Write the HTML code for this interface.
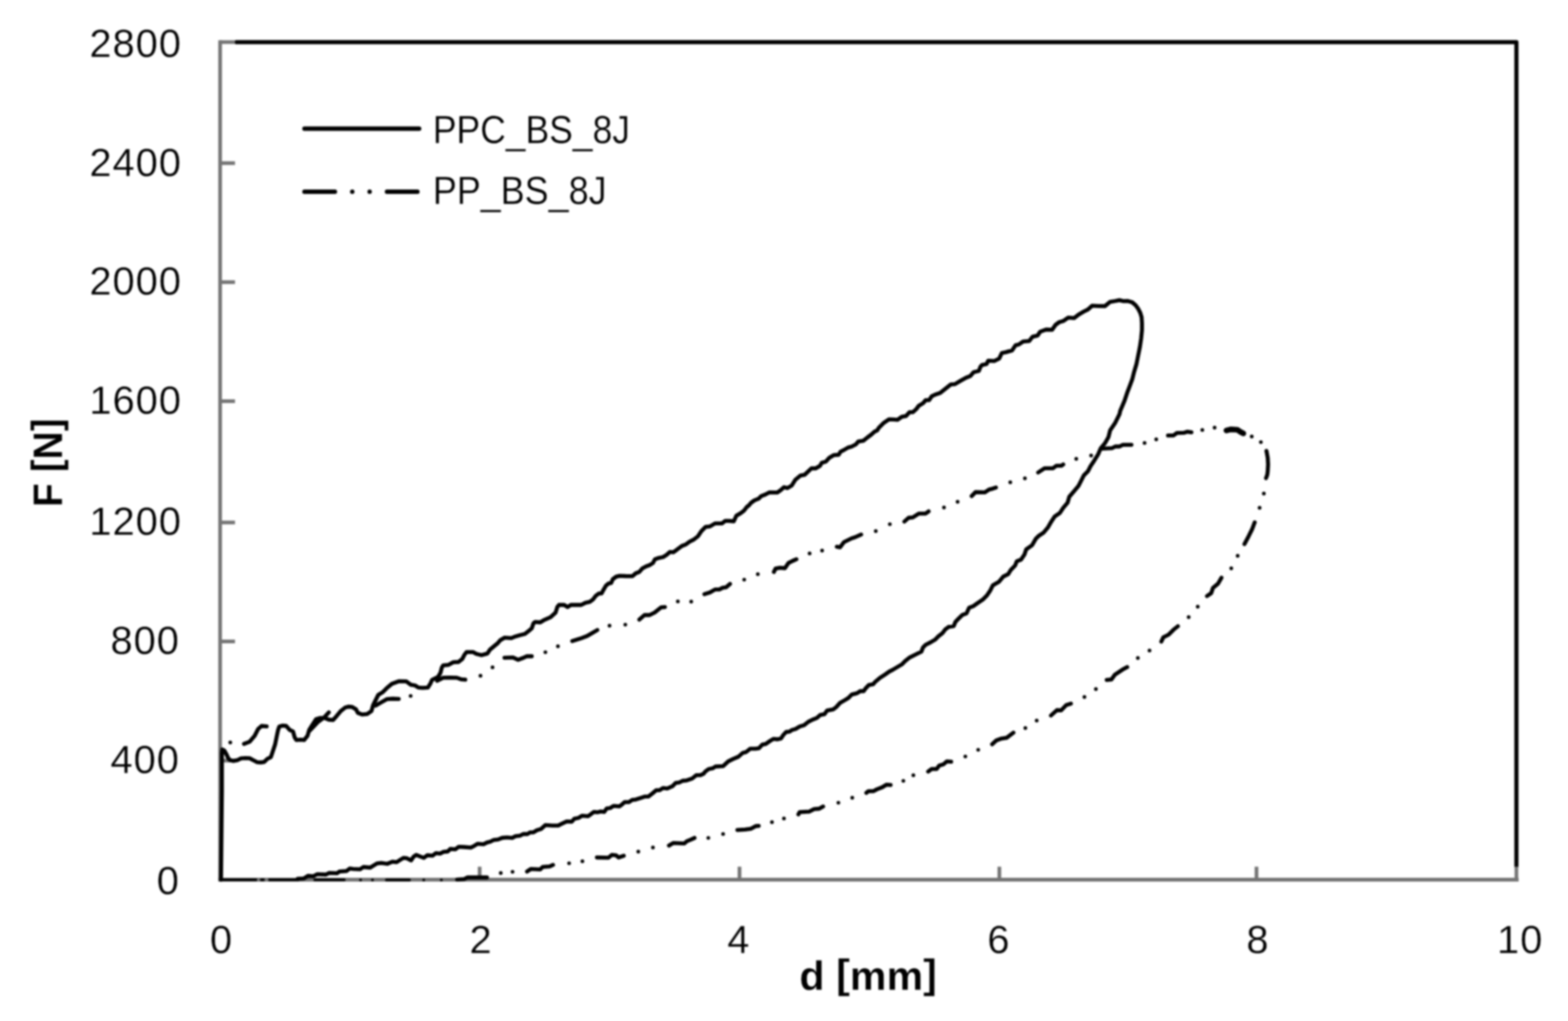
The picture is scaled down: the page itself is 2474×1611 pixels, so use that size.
<!DOCTYPE html>
<html lang="en"><head><meta charset="utf-8"><title>F-d chart</title>
<style>html,body{margin:0;padding:0;background:#fff}body{width:2474px;height:1611px;overflow:hidden}svg{display:block;filter:blur(1.55px)}text{font-family:"Liberation Sans",sans-serif;fill:#000;stroke:#fff;stroke-width:0.4}.b{font-weight:bold}</style></head><body>
<svg width="2474" height="1611" viewBox="0 0 2474 1611">
<rect width="2474" height="1611" fill="#fff"/>
<g id="frame"><path d="M372.8 66.6 H2392.6 V1366.5" fill="none" stroke="#000" stroke-width="6.5" stroke-linejoin="round" stroke-linecap="round"/></g>
<g id="axes" fill="none" stroke="#747474" stroke-linecap="butt"><path stroke-width="5.8" d="M347.3 63.5 V1388"/><path stroke-width="6.0" d="M344.4 1388 H2396.1"/><path stroke-width="5.8" d="M347.3 1200.2 h23.5"/><path stroke-width="5.8" d="M347.3 1012.1 h23.5"/><path stroke-width="5.8" d="M347.3 824.4 h23.5"/><path stroke-width="5.8" d="M347.3 633 h23.5"/><path stroke-width="5.8" d="M347.3 445.2 h23.5"/><path stroke-width="5.8" d="M347.3 257.4 h23.5"/><path stroke-width="5.8" d="M347.3 66.4 h23.5"/><path stroke-width="5.8" d="M756.8 1388 v-20.5"/><path stroke-width="5.8" d="M1166.8 1388 v-20.5"/><path stroke-width="5.8" d="M1576.8 1388 v-20.5"/><path stroke-width="5.8" d="M1982.5 1388 v-20.5"/><path stroke-width="5.8" d="M2392.6 1388 v-20.5"/></g>
<g id="ylabels" font-size="63" text-anchor="end" letter-spacing="1.5"><text x="283.8" y="1411.2">0</text><text x="283.8" y="1219.7">400</text><text x="283.8" y="1032.2">800</text><text x="287.1" y="844.3">1200</text><text x="287.1" y="653.1">1600</text><text x="287.1" y="465.2">2000</text><text x="287.1" y="277.8">2400</text><text x="287.1" y="89.9">2800</text></g>
<g id="xlabels" font-size="63" text-anchor="middle" letter-spacing="1.5"><text x="349.6" y="1504.3">0</text><text x="758.9" y="1504.3">2</text><text x="1165.7" y="1504.3">4</text><text x="1576.1" y="1504.3">6</text><text x="1984.7" y="1504.3">8</text><text x="2398.5" y="1504.3">10</text></g>
<text id="xtitle" class="b" x="1369.8" y="1561.5" text-anchor="middle" font-size="65" textLength="217" lengthAdjust="spacingAndGlyphs">d <tspan dy="-2.8">[</tspan><tspan dy="2.8">mm</tspan><tspan dy="-2.8">]</tspan></text>
<text id="ytitle" class="b" transform="translate(98.2 730) rotate(-90)" text-anchor="middle" font-size="65" textLength="140" lengthAdjust="spacingAndGlyphs">F <tspan dy="-3.2">[</tspan><tspan dy="3.2">N</tspan><tspan dy="-3.2">]</tspan></text>
<g id="legend" fill="none" stroke="#000" stroke-width="7.0" stroke-linecap="round"><path d="M480.4 203 H661.3"/><path d="M480.4 302.5 H528.4 M555.8 302.5 h0.01 M583.2 302.5 h0.01 M610.6 302.5 H658.6"/></g>
<g id="legendtext" font-size="63"><text x="683" y="226.3" textLength="311" lengthAdjust="spacingAndGlyphs">PPC_BS_8J</text><text x="683" y="322.3" textLength="274" lengthAdjust="spacingAndGlyphs">PP_BS_8J</text></g>
<g id="series" fill="none" stroke="#000" stroke-linecap="round" stroke-linejoin="round">
<path id="ppc" stroke-width="6.3" d="M348.7 1388 L350.1 1248 L350.1 1187.9 L350.8 1182.5 L354.1 1184.5 L357.5 1190.6 L360.2 1196.6 L362.9 1199.3 L368.2 1200.7 L375 1199.3 L380.3 1196.6 L387.1 1196.2 L393.8 1196.4 L399.2 1199.3 L405.9 1202.7 L411.3 1203 L416.6 1202.4 L422 1197.3 L427.4 1194.6 L430.1 1186.6 L434.1 1174.5 L436.8 1161 L438.8 1151.6 L440.8 1146.2 L446.2 1144.9 L451.6 1145.5 L457 1151.6 L462.4 1154.3 L465 1163.7 L467.7 1167.7 L474.5 1167.1 L479.8 1167.7 L485.2 1161 L487.9 1151.6 L491.3 1146.2 L498.7 1134.8 L505.4 1132.8 L512.1 1132.8 L518.8 1135.5 L525.5 1136.1 L530.9 1130.1 L537.6 1122 L544.4 1116.6 L549.7 1115 L555.1 1115.3 L561.8 1119.3 L564.5 1124.7 L571.3 1127.4 L579.3 1126.7 L586.1 1122 L588.7 1112.6 L592.8 1104.5 L596.8 1096.5 L603.5 1092.4 L610.3 1085.7 L618.3 1079 L629.1 1075 L641.2 1075.2 L647.9 1080.3 L654.8 1081.5 L660.2 1084.9 L666.9 1085.3 L675 1084.9 L679 1078.8 L681.7 1072.8 L691.1 1068.1 L695.1 1061.3 L697.1 1053.3 L699.2 1049.9 L707.2 1049.2 L715.3 1044.9 L723.4 1044.5 L729.4 1039.8 L732.8 1033.1 L736.1 1028.8 L746.2 1028.8 L751.6 1031.8 L759.7 1033.8 L769.1 1031.1 L773.1 1025 L781.2 1018.3 L785.2 1015 L789.2 1010.3 L796 1006.2 L806.7 1006.9 L813.4 1004.2 L820.2 1002.2 L828.2 1000.2 L833.6 996.1 L839 991.4 L841.7 983.4 L844.4 981.3 L852.4 982 L857.8 978.7 L868.6 973.9 L876.6 966.6 L879.3 957.8 L882 954.5 L890.1 954.5 L895.5 957.8 L900.8 954.5 L917 954.5 L923.7 951.1 L930.4 949.7 L935.8 945.7 L939.8 940.3 L945.2 936.3 L949.2 936.3 L952.1 930.8 L956.1 924 L960.2 920.7 L964.2 920 L966.9 913.9 L972.3 909.9 L977.6 908.6 L987.1 909 L997.8 909.2 L1003.2 904.5 L1008.6 902.5 L1013.3 897.1 L1019.3 893.8 L1024.7 891.8 L1030.1 888.4 L1033.4 882.4 L1039.5 880.3 L1046.2 879 L1051.6 875.6 L1057 870.9 L1062.4 871.3 L1067.7 867.6 L1075.8 861.5 L1082.5 858.8 L1087.9 854.8 L1094.6 851.4 L1101.3 846.1 L1106.7 838 L1113.4 831.3 L1120.2 830.6 L1128.2 825.9 L1139 825.9 L1144.4 821.8 L1149.7 821.8 L1157.8 822.5 L1161.8 813.8 L1168.6 809.7 L1173.9 805.7 L1178 800.3 L1182 797 L1184.7 793.6 L1190.1 789.6 L1196.8 786.9 L1200.8 782.9 L1207.6 780.2 L1214.3 776.8 L1226.4 777.2 L1231.8 773.4 L1237.1 768.7 L1242.5 770.1 L1249.2 766.1 L1254.8 757.1 L1262.9 750.4 L1269.6 749.1 L1280.3 739 L1287.1 739 L1293.8 735 L1296.5 730.3 L1303.2 728.2 L1308.6 722.2 L1315.3 718.2 L1323.4 717.5 L1326.1 712.8 L1331.4 710.1 L1338.2 706.1 L1343.5 704.7 L1350.3 701.3 L1354.3 696.6 L1362.4 695.3 L1369.1 689.9 L1374.5 685.9 L1379.8 681.2 L1383.9 679.2 L1386.6 675.1 L1394.6 667.1 L1402.7 661.7 L1409.4 661.9 L1416.1 662.4 L1422.9 657.6 L1429.6 656.3 L1435 650.3 L1440.3 650.3 L1445.7 645.5 L1449.7 640.2 L1456.5 636.1 L1460.5 631.4 L1465.9 631.4 L1469.9 625.4 L1475.3 622.7 L1483.4 620 L1500 606.7 L1506.7 606.1 L1514.8 601.3 L1524.2 596 L1530.9 593.3 L1536.3 587.2 L1544.4 585.2 L1547.1 578.5 L1549.7 575.8 L1556.5 574.5 L1559.2 569.1 L1568.6 569.7 L1576.6 565.7 L1580.7 557 L1587.4 555.6 L1596.8 552.9 L1602.2 544.9 L1607.6 543.5 L1614.3 538.8 L1623.7 538.2 L1629.1 531.4 L1637.1 529.4 L1641.2 523.4 L1650.6 520 L1660 520.4 L1665.4 512.6 L1670.8 508.6 L1677.5 506.6 L1685.5 501.2 L1695 501.8 L1701.7 496.5 L1709.7 491.8 L1716.5 488.4 L1723.2 482.4 L1732.6 482.8 L1743.4 483 L1751.4 476.3 L1759.5 475 L1766.2 473.6 L1772.9 475.2 L1779.7 475 L1786.4 477 L1791.8 481.7 L1795.8 487.1 L1799.2 493.8 L1801.2 500.5 L1801.8 509.9 L1801.8 520.7 L1800.5 534.1 L1798.5 547.6 L1795.8 561 L1793.1 574.5 L1789.1 587.9 L1786.4 598.7 L1782.4 609.4 L1778.3 620.2 L1774.3 632.3 L1770.3 641.7 L1767.6 648 L1766.4 653.4 L1759.7 666.9 L1751.6 679 L1748.9 689.7 L1743.5 699.2 L1736.8 707.2 L1732.8 716.6 L1726.1 727.4 L1720.7 735.5 L1716.6 743.5 L1709.9 750.3 L1705.9 758.3 L1701.8 766.4 L1695.1 774.5 L1687.1 783.9 L1684.4 793.3 L1677.6 801.3 L1672.3 809.4 L1664.2 814.8 L1658.8 822.9 L1653.4 832.3 L1646.7 840.3 L1638.7 845.7 L1634.6 849.7 L1628.5 860.2 L1619.1 866.9 L1616.4 875 L1611 883 L1604.3 885.7 L1601.6 892.4 L1594.9 899.2 L1590.8 905.9 L1582.8 909.9 L1576.1 918 L1566.6 923.4 L1562.6 931.4 L1557.2 939.5 L1550.5 946.2 L1542.4 951.6 L1535.7 956.3 L1529 959 L1525 967.7 L1518.2 970.4 L1511.5 977.1 L1507.5 981.2 L1504.8 987.9 L1496.7 989.2 L1491.3 993.3 L1487.3 998.7 L1480.6 1004 L1475.2 1009.4 L1468.5 1013.4 L1460.4 1017.5 L1456.4 1021.5 L1453.7 1028.2 L1445.6 1032.3 L1434.9 1037.6 L1428.2 1043 L1422.8 1048.4 L1415.2 1052.9 L1408.5 1056.9 L1403.1 1059.6 L1396.4 1064.3 L1388.3 1069.7 L1380.3 1076.4 L1377.6 1079.7 L1370.8 1080.8 L1365.5 1086.5 L1362.8 1090.5 L1357.4 1090.5 L1352 1093.9 L1343.9 1095.9 L1338.6 1101.3 L1333.2 1104.6 L1325.1 1109.3 L1319.7 1115.4 L1314.4 1119.4 L1305 1121.2 L1300.9 1126.8 L1294.2 1128.2 L1288.8 1132.9 L1282.1 1135.5 L1275.4 1138.9 L1268.7 1144.3 L1261.9 1146.3 L1255.2 1150.3 L1249.8 1151.7 L1245.8 1154.4 L1240.4 1155 L1236.4 1159.1 L1232.4 1165.1 L1227 1166.5 L1220.3 1165.8 L1214.9 1169.2 L1208.2 1173.9 L1202.8 1174.9 L1197.4 1180.6 L1192 1181.3 L1183.9 1181.3 L1177.2 1186.6 L1171.8 1188 L1165.1 1194 L1157.1 1197.4 L1149 1201.4 L1140.9 1208.8 L1128.8 1209.5 L1124.8 1212.2 L1118.1 1213.5 L1112.7 1217.6 L1110 1220.9 L1105.2 1223.2 L1098.5 1223.2 L1091.8 1228.6 L1083.7 1231.3 L1077 1232 L1071.6 1234.7 L1066.2 1235.3 L1060.8 1240.7 L1052.8 1244.1 L1046.1 1243.4 L1040.7 1246.8 L1035.3 1246.8 L1029.9 1251.5 L1023.2 1256.8 L1017.8 1256.8 L1011.1 1258.9 L1003 1261.6 L997.6 1262.2 L992.3 1265.6 L985.5 1265.6 L980.2 1270.3 L977.5 1272.3 L968.1 1271.6 L962.7 1275 L957.3 1275.7 L953.3 1281.1 L947.9 1280.4 L942.5 1281.7 L937.1 1281.1 L931.8 1285.1 L927.7 1287.8 L918.3 1287.1 L912.9 1290.5 L906.2 1291.8 L902.2 1296.5 L894.1 1296.1 L886.1 1299.9 L880.7 1302.6 L871.3 1302.6 L860.5 1301.9 L853.8 1307.9 L847.1 1310 L841.7 1313.3 L836.3 1313.3 L832.3 1316 L825.5 1316 L820.2 1318.7 L813.4 1319.4 L808.1 1322.1 L800 1321.4 L792.5 1322 L785.8 1324.7 L779.1 1325.3 L773.7 1328 L768.3 1329.4 L762.9 1332.1 L753.5 1331.4 L748.2 1334.7 L742.8 1337.4 L732 1336.5 L723.9 1336.1 L718.6 1340.1 L710.5 1339.5 L706.5 1343.5 L699.7 1344.2 L694.4 1346.8 L687.6 1346.2 L682.3 1350.2 L674.2 1349.5 L668.8 1353.6 L663.4 1351.6 L656.7 1348.9 L652.7 1351.6 L648.7 1357.6 L641.9 1354.2 L636.6 1353.6 L631.2 1356.9 L625.8 1360.3 L619.1 1359.6 L611 1363 L601.6 1361.6 L594.9 1362.3 L589.5 1365.7 L584.1 1369 L573.4 1368 L568 1371.7 L557.2 1371.1 L551.8 1370.4 L546.5 1374.4 L535.7 1375.1 L531.7 1377.8 L519.6 1377.3 L514.2 1380 L500.8 1379.3 L494 1382.7 L486 1382 L479.2 1386.1 L469.8 1386.7"/>
<path id="ppc-base" stroke-width="4.6" stroke-linecap="butt" d="M345.6 1388.2 H405.5 M410.5 1388.2 H417.5 M423.5 1388.2 H471.8"/>
<path id="pp" stroke-width="6.3" d="M385 1173.8 L393.8 1170.4 L401.8 1161 L407.2 1150.3 L412.6 1145.5 L420.7 1146.2 M489.2 1152.3 L501.3 1139.5 L512.1 1131.4 L518.8 1124 M592.8 1113.3 L600.8 1108.6 L610.3 1103.2 L619.7 1102.5 L629.1 1102.8 M689.7 1074.1 L699.2 1069.4 L709.9 1069.1 L720.7 1069.4 L727.4 1071.8 L734.1 1072.4 M796 1037.8 L809.4 1037.4 L817.5 1041.2 L824.2 1038.5 L830.9 1035.5 L839 1035.5 M902.9 1011.6 L915.6 1007.6 L926.4 1003.5 L934.5 998.8 L942.5 994.1 M1111.4 937.5 L1120.2 934.8 L1128.2 930.1 L1135 930.1 L1140.3 927.4 L1145.7 926.7 L1151.8 921.3 M1221 902.5 L1223.7 897.1 L1230.4 895.8 L1238.5 896.5 L1243.9 888.4 L1250.6 885 L1256.6 882.4 M1426.9 823 L1433.6 817 L1440.3 816.3 L1449.7 810.3 L1460.5 810.3 L1465.2 806.9 M1533.1 782.8 L1539.2 776.5 L1553.9 776.9 L1560.7 772.4 L1566.1 771.1 L1571.4 769.3 M1638 745.5 L1648.1 738.8 L1661.5 738.8 L1666.9 734.8 L1675 734.8 L1677.6 732.8 M1738.8 707.9 L1754.3 707.2 L1759.7 704.5 L1766.4 704.5 L1771.8 701.8 L1785.2 701.8 M831.6 1375.2 L837.6 1371.1 L852.4 1371.8 L856.5 1367.8 L867.2 1367.1 L872.6 1364.7 M941.8 1353 L960 1353.4 L965.4 1348.9 L972.1 1349.6 L976.1 1353 L984.2 1350.3 M1055.5 1334.2 L1062.2 1330.1 L1079.7 1330.8 L1083.7 1327.4 L1090.4 1324.7 L1095.8 1322.1 M721.3 1387.9 L732 1387.2 L737.4 1384.5 L752.2 1384.5 L768.3 1384.5 M1842.9 687.2 L1851.6 687 L1857 683.2 L1867.7 682.9 L1873.1 681.2 L1879.8 682.1 M1998.2 711.4 L2000.2 722.2 L2000.8 732.9 L2000.2 743.7 L1999.5 749.1 L1997.5 754.5 M1979.7 824.2 L1975.6 835 L1970.3 845.7 L1963.5 858.5 M1927.2 911.6 L1921.8 921 L1913.8 927.7 L1911.1 935.8 L1904.4 940.5 M1858.5 988.1 L1851.8 993.4 L1843.7 1001.5 L1835.6 1005.5 L1832.3 1012.3 M1778.5 1052.6 L1771.1 1056.6 L1759 1064.7 L1753.6 1072.1 L1746.2 1072.8 M1689.7 1110.2 L1682.4 1112.4 L1674.3 1120.9 L1667.6 1120.5 L1658.2 1129 M1599 1156.1 L1588.2 1164.2 L1580.2 1165.3 L1572.1 1168.2 L1565.4 1174.3 M1500.7 1201.9 L1493.9 1201.3 L1488.6 1206 L1481.8 1208 L1477.8 1213.4 L1469.7 1213.4 L1464.4 1217.4 M1405.2 1238.6 L1398.5 1238.2 L1391.8 1242.3 L1383.7 1245.4 L1378.3 1248.3 L1370.3 1248.3 L1366.9 1251 M1298.7 1272.6 L1292.6 1276 L1284.5 1276.6 L1276.5 1280.7 L1261.7 1281.3 L1259.7 1285 M1197.1 1303.1 L1192.4 1303.5 L1185 1307.6 L1175.6 1308.9 L1163.5 1309.6 M1008.7 977.6 L1016.8 970.5 L1024.9 970.5 L1032.9 966.5 L1043 958.4 L1049.1 957.8 M1320.3 862.6 L1325.4 863.6 L1331.4 855.5 L1343.5 849.5 L1349.6 847.5 L1358.7 843.4"/>
<path id="pp-dots" stroke-width="5.9" d="M363.3 1171.5h0.01 M647.9 1098.1h0.01 M758.1 1066.3h0.01 M777.1 1052.9h0.01 M860.5 1029.1h0.01 M880.3 1019.7h0.01 M1069.5 948.9h0.01 M1090.6 949.2h0.01 M1174.2 914.6h0.01 M1195.7 905.9h0.01 M1404 827.1h0.01 M1489.4 800.8h0.01 M1510.9 791.8h0.01 M1594 761h0.01 M1617.1 754.7h0.01 M1698.1 724h0.01 M1721.6 718.7h0.01 M1425.3 1232.1h0.01 M808.7 1375.6h0.01 M897.9 1362.1h0.01 M918.9 1358.9h0.01 M1007.1 1343.8h0.01 M1030.2 1337.3h0.01 M1117.6 1322.1h0.01 M790.1 1377.5h0.01 M1805.9 698.9h0.01 M1824.3 693.3h0.01 M1897 678.4h0.01 M1916.4 674.7h0.01 M1975 688.8h0.01 M1989.4 697.6h0.01 M1994.1 778.7h0.01 M1987.4 801.2h0.01 M1952.8 877h0.01 M1942.7 896.8h0.01 M1889.8 957.3h0.01 M1875.5 973.8h0.01 M1813.7 1026.4h0.01 M1795.3 1038.2h0.01 M1729.1 1087.2h0.01 M1711 1099.7h0.01 M1635.7 1136.9h0.01 M1617.8 1148.7h0.01 M1543.4 1183.1h0.01 M1523.1 1193.6h0.01 M1441.1 1223.3h0.01 M1344.7 1258.8h0.01 M1322.8 1266.6h0.01 M1236.9 1291.4h0.01 M1218 1297.3h0.01 M1140.9 1315.9h0.01 M961.7 987.2h0.01 M986.6 985.6h0.01 M1277.4 873.3h0.01 M1297.1 868.7h0.01 M1381.8 838h0.01"/>
<path id="pp-peak" stroke-width="8.9" d="M1935 679.2 L1941.7 677.5 L1952.4 678.1 L1957.8 681.8 L1961.8 683.9"/>
<path id="pp-base" stroke-width="4.6" d="M609.7 1388.5 L646 1388.5 M496.7 1388.3 L543.1 1388.3 M568.9 1388.5h0.01 M587.7 1388.5h0.01 M668.6 1388.5h0.01 M696.4 1388.5h0.01"/>
</g>
</svg></body></html>
